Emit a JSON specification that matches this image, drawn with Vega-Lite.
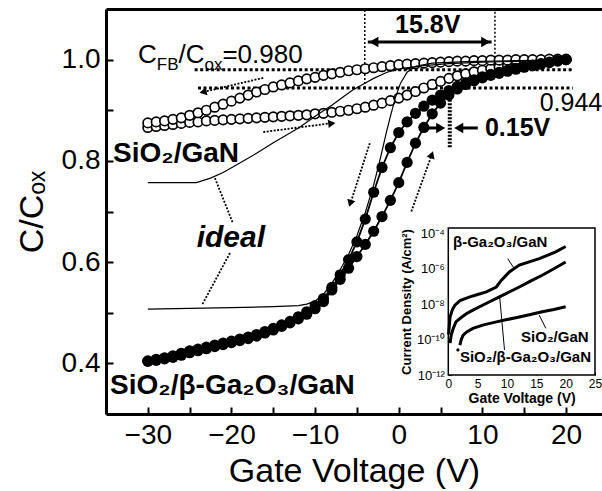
{
"$schema":"https://vega.github.io/schema/vega-lite/v6.json",
"width":496,"height":405,
"autosize":{"type":"none"},
"padding":{"left":106,"top":9,"right":0,"bottom":77},
"background":"white",
"config":{"view":{"stroke":null},"font":"Liberation Sans","axis":{"grid":false,"domainColor":"black","tickColor":"black","labelColor":"black","titleColor":"black","labelFont":"Liberation Sans","titleFont":"Liberation Sans","labelFlush":false,"labelOverlap":false}},
"datasets":{
"gan_reverse":[{"V":-30,"C":0.875},{"V":-29,"C":0.877},{"V":-28,"C":0.879},{"V":-27,"C":0.882},{"V":-26,"C":0.885},{"V":-25,"C":0.89},{"V":-24,"C":0.895},{"V":-23,"C":0.9},{"V":-22,"C":0.906},{"V":-21,"C":0.912},{"V":-20,"C":0.918},{"V":-19,"C":0.924},{"V":-18,"C":0.93},{"V":-17,"C":0.936},{"V":-16,"C":0.941},{"V":-15,"C":0.946},{"V":-14,"C":0.95},{"V":-13,"C":0.954},{"V":-12,"C":0.958},{"V":-11,"C":0.962},{"V":-10,"C":0.965},{"V":-9,"C":0.969},{"V":-8,"C":0.972},{"V":-7,"C":0.975},{"V":-6,"C":0.978},{"V":-5,"C":0.98},{"V":-4,"C":0.982},{"V":-3,"C":0.984},{"V":-2,"C":0.986},{"V":-1,"C":0.988},{"V":0,"C":0.99},{"V":1,"C":0.991},{"V":2,"C":0.992},{"V":3,"C":0.993},{"V":4,"C":0.994},{"V":5,"C":0.995},{"V":6,"C":0.996},{"V":7,"C":0.997},{"V":8,"C":0.997},{"V":9,"C":0.998},{"V":10,"C":0.998},{"V":11,"C":0.999},{"V":12,"C":0.999},{"V":13,"C":0.999},{"V":14,"C":1.0},{"V":15,"C":1.0},{"V":16,"C":1.0},{"V":17,"C":1.0},{"V":18,"C":1.001},{"V":19,"C":1.001},{"V":20,"C":1.001}],
"gan_forward":[{"V":-30,"C":0.866},{"V":-29,"C":0.868},{"V":-28,"C":0.87},{"V":-27,"C":0.872},{"V":-26,"C":0.874},{"V":-25,"C":0.876},{"V":-24,"C":0.877},{"V":-23,"C":0.879},{"V":-22,"C":0.88},{"V":-21,"C":0.881},{"V":-20,"C":0.882},{"V":-19,"C":0.883},{"V":-18,"C":0.884},{"V":-17,"C":0.885},{"V":-16,"C":0.886},{"V":-15,"C":0.887},{"V":-14,"C":0.888},{"V":-13,"C":0.889},{"V":-12,"C":0.89},{"V":-11,"C":0.891},{"V":-10,"C":0.893},{"V":-9,"C":0.894},{"V":-8,"C":0.896},{"V":-7,"C":0.898},{"V":-6,"C":0.9},{"V":-5,"C":0.903},{"V":-4,"C":0.906},{"V":-3,"C":0.91},{"V":-2,"C":0.914},{"V":-1,"C":0.919},{"V":0,"C":0.924},{"V":1,"C":0.93},{"V":2,"C":0.937},{"V":3,"C":0.944},{"V":4,"C":0.951},{"V":5,"C":0.957},{"V":6,"C":0.963},{"V":7,"C":0.968},{"V":8,"C":0.972},{"V":9,"C":0.976},{"V":10,"C":0.979},{"V":11,"C":0.982},{"V":12,"C":0.985},{"V":13,"C":0.987},{"V":14,"C":0.989},{"V":15,"C":0.991},{"V":16,"C":0.993},{"V":17,"C":0.995},{"V":18,"C":0.997},{"V":19,"C":0.999},{"V":20,"C":1.0}],
"ga_reverse":[{"V":-30,"C":0.405},{"V":-29,"C":0.408},{"V":-28,"C":0.411},{"V":-27,"C":0.415},{"V":-26,"C":0.42},{"V":-25,"C":0.425},{"V":-24,"C":0.428},{"V":-23,"C":0.432},{"V":-22,"C":0.436},{"V":-21,"C":0.44},{"V":-20,"C":0.444},{"V":-19,"C":0.448},{"V":-18,"C":0.452},{"V":-17,"C":0.457},{"V":-16,"C":0.463},{"V":-15,"C":0.469},{"V":-14,"C":0.476},{"V":-13,"C":0.483},{"V":-12,"C":0.492},{"V":-11,"C":0.502},{"V":-10,"C":0.514},{"V":-9,"C":0.528},{"V":-8,"C":0.55},{"V":-7,"C":0.575},{"V":-6,"C":0.605},{"V":-5,"C":0.64},{"V":-4,"C":0.685},{"V":-3,"C":0.738},{"V":-2,"C":0.787},{"V":-1,"C":0.826},{"V":0,"C":0.856},{"V":1,"C":0.877},{"V":2,"C":0.894},{"V":3,"C":0.908},{"V":4,"C":0.92},{"V":5,"C":0.93},{"V":6,"C":0.939},{"V":7,"C":0.947},{"V":8,"C":0.954},{"V":9,"C":0.96},{"V":10,"C":0.966},{"V":11,"C":0.971},{"V":12,"C":0.975},{"V":13,"C":0.979},{"V":14,"C":0.983},{"V":15,"C":0.986},{"V":16,"C":0.989},{"V":17,"C":0.992},{"V":18,"C":0.995},{"V":19,"C":0.998},{"V":20,"C":1.0}],
"ga_forward":[{"V":-30,"C":0.404},{"V":-29,"C":0.406},{"V":-28,"C":0.409},{"V":-27,"C":0.412},{"V":-26,"C":0.416},{"V":-25,"C":0.421},{"V":-24,"C":0.425},{"V":-23,"C":0.429},{"V":-22,"C":0.433},{"V":-21,"C":0.437},{"V":-20,"C":0.441},{"V":-19,"C":0.445},{"V":-18,"C":0.449},{"V":-17,"C":0.454},{"V":-16,"C":0.46},{"V":-15,"C":0.466},{"V":-14,"C":0.473},{"V":-13,"C":0.48},{"V":-12,"C":0.488},{"V":-11,"C":0.497},{"V":-10,"C":0.508},{"V":-9,"C":0.522},{"V":-8,"C":0.545},{"V":-7,"C":0.566},{"V":-6,"C":0.588},{"V":-5,"C":0.611},{"V":-4,"C":0.635},{"V":-3,"C":0.661},{"V":-2,"C":0.69},{"V":-1,"C":0.722},{"V":0,"C":0.757},{"V":1,"C":0.797},{"V":2,"C":0.835},{"V":3,"C":0.866},{"V":4,"C":0.893},{"V":5,"C":0.914},{"V":6,"C":0.93},{"V":7,"C":0.942},{"V":8,"C":0.951},{"V":9,"C":0.958},{"V":10,"C":0.964},{"V":11,"C":0.969},{"V":12,"C":0.973},{"V":13,"C":0.977},{"V":14,"C":0.981},{"V":15,"C":0.985},{"V":16,"C":0.988},{"V":17,"C":0.991},{"V":18,"C":0.994},{"V":19,"C":0.997},{"V":20,"C":1.0}],
"ideal_gan":[{"V":-30,"C":0.757},{"V":-24.2,"C":0.757},{"V":-22.5,"C":0.766},{"V":-21,"C":0.777},{"V":-19,"C":0.796},{"V":-17,"C":0.815},{"V":-15,"C":0.836},{"V":-13,"C":0.855},{"V":-11.8,"C":0.867},{"V":-10,"C":0.888},{"V":-8,"C":0.91},{"V":-6.5,"C":0.928},{"V":-5.5,"C":0.94},{"V":-4,"C":0.954},{"V":-3,"C":0.963},{"V":-1.4,"C":0.975},{"V":0.5,"C":0.983},{"V":3,"C":0.988},{"V":6,"C":0.992},{"V":10,"C":0.995},{"V":15,"C":0.997},{"V":20,"C":0.999}],
"ideal_ga":[{"V":-30,"C":0.507},{"V":-20,"C":0.51},{"V":-15,"C":0.512},{"V":-12,"C":0.514},{"V":-11,"C":0.517},{"V":-10,"C":0.523},{"V":-9,"C":0.537},{"V":-8,"C":0.558},{"V":-7,"C":0.585},{"V":-6,"C":0.615},{"V":-5,"C":0.652},{"V":-4,"C":0.698},{"V":-3,"C":0.752},{"V":-2.2,"C":0.805},{"V":-1.5,"C":0.855},{"V":-1,"C":0.888},{"V":-0.4,"C":0.925},{"V":0.2,"C":0.953},{"V":1,"C":0.975},{"V":2,"C":0.987},{"V":4,"C":0.993},{"V":8,"C":0.996},{"V":14,"C":0.998},{"V":20,"C":0.999}],
"refs":[{"x":-24.4,"x2":20.8,"y":0.98,"y2":0.98,"kind":"h"},{"x":-24.0,"x2":20.8,"y":0.944,"y2":0.944,"kind":"h"},{"x":-4.06,"x2":-4.06,"y":0.944,"y2":1.1,"kind":"v"},{"x":11.5,"x2":11.5,"y":0.98,"y2":1.1,"kind":"v"},{"x":6.1,"x2":6.1,"y":0.827,"y2":0.934,"kind":"thick"}],
"arrows":[{"x":-16.2,"y":0.964,"x2":-23.4,"y2":0.936,"line":"dotted"},{"x":-16.2,"y":0.857,"x2":-8.2,"y2":0.874,"line":"dotted"},{"x":-3.46,"y":0.835,"x2":-5.7,"y2":0.72,"line":"dotted"},{"x":1.5,"y":0.7,"x2":3.9,"y2":0.81,"line":"dotted"},{"x":-21.98,"y":0.766,"x2":-19.83,"y2":0.677,"line":"leader"},{"x":-20.18,"y":0.618,"x2":-23.53,"y2":0.515,"line":"leader"},{"x":-3.7,"y":1.035,"x2":11.1,"y2":1.035,"line":"solid"},{"x":3.35,"y":0.865,"x2":5.02,"y2":0.865,"line":"solid"},{"x":9.45,"y":0.865,"x2":7.17,"y2":0.865,"line":"solid"}],
"heads":[{"x":-23.4,"y":0.936,"arrow":"a1"},{"x":-8.0,"y":0.874,"arrow":"a2"},{"x":-5.8,"y":0.716,"arrow":"a3"},{"x":3.95,"y":0.812,"arrow":"a4"},{"x":-2.98,"y":1.035,"arrow":"left"},{"x":10.4,"y":1.035,"arrow":"right"},{"x":5.02,"y":0.865,"arrow":"right"},{"x":7.17,"y":0.865,"arrow":"left"}],
"notes":[{"x":-31.18,"y":0.993,"text":"C","role":"note"},{"x":-28.93,"y":0.979,"text":"FB","role":"sub"},{"x":-26.34,"y":0.993,"text":"/C","role":"note"},{"x":-23.23,"y":0.979,"text":"ox","role":"sub"},{"x":-21.08,"y":0.993,"text":"=0.980","role":"note"},{"x":16.85,"y":0.914,"text":"0.944","role":"value"},{"x":-34.16,"y":0.798,"text":"SiO₂/GaN","role":"sample"},{"x":-34.52,"y":0.339,"text":"SiO₂/β-Ga₂O₃/GaN","role":"sample"},{"x":3.47,"y":1.068,"text":"15.8V","role":"shift"},{"x":10.3,"y":0.865,"text":"0.15V","role":"shiftleft"},{"x":-20.07,"y":0.647,"text":"ideal","role":"ideal"}],
"jv":[{"V":0.05,"J":2.0e-10,"sample":"b-Ga2O3/GaN"},{"V":0.3,"J":1.9e-9,"sample":"b-Ga2O3/GaN"},{"V":0.7,"J":5.0e-9,"sample":"b-Ga2O3/GaN"},{"V":1.13,"J":8.7e-9,"sample":"b-Ga2O3/GaN"},{"V":2,"J":1.6e-8,"sample":"b-Ga2O3/GaN"},{"V":3.67,"J":2.6e-8,"sample":"b-Ga2O3/GaN"},{"V":5,"J":3.5e-8,"sample":"b-Ga2O3/GaN"},{"V":6.49,"J":4.9e-8,"sample":"b-Ga2O3/GaN"},{"V":8.18,"J":9.3e-8,"sample":"b-Ga2O3/GaN"},{"V":9.02,"J":2.2e-7,"sample":"b-Ga2O3/GaN"},{"V":10.4,"J":6.6e-7,"sample":"b-Ga2O3/GaN"},{"V":12.1,"J":1.6e-6,"sample":"b-Ga2O3/GaN"},{"V":15.5,"J":3.7e-6,"sample":"b-Ga2O3/GaN"},{"V":18.3,"J":8.9e-6,"sample":"b-Ga2O3/GaN"},{"V":20,"J":1.8e-5,"sample":"b-Ga2O3/GaN"},
{"V":0.3,"J":6.3e-11,"sample":"SiO2/b-Ga2O3/GaN"},{"V":0.5,"J":1.8e-10,"sample":"SiO2/b-Ga2O3/GaN"},{"V":0.85,"J":4.3e-10,"sample":"SiO2/b-Ga2O3/GaN"},{"V":1.3,"J":1.0e-9,"sample":"SiO2/b-Ga2O3/GaN"},{"V":1.98,"J":1.55e-9,"sample":"SiO2/b-Ga2O3/GaN"},{"V":3,"J":2.8e-9,"sample":"SiO2/b-Ga2O3/GaN"},{"V":4.2,"J":4.6e-9,"sample":"SiO2/b-Ga2O3/GaN"},{"V":6,"J":9.3e-9,"sample":"SiO2/b-Ga2O3/GaN"},{"V":8.2,"J":2.1e-8,"sample":"SiO2/b-Ga2O3/GaN"},{"V":10,"J":4.2e-8,"sample":"SiO2/b-Ga2O3/GaN"},{"V":12.1,"J":9.3e-8,"sample":"SiO2/b-Ga2O3/GaN"},{"V":14,"J":2.0e-7,"sample":"SiO2/b-Ga2O3/GaN"},{"V":16,"J":4.3e-7,"sample":"SiO2/b-Ga2O3/GaN"},{"V":18,"J":1.0e-6,"sample":"SiO2/b-Ga2O3/GaN"},{"V":20,"J":2.4e-6,"sample":"SiO2/b-Ga2O3/GaN"},
{"V":1.98,"J":4.9e-11,"sample":"SiO2/GaN"},{"V":2.2,"J":1.0e-10,"sample":"SiO2/GaN"},{"V":2.53,"J":1.8e-10,"sample":"SiO2/GaN"},{"V":3.2,"J":2.8e-10,"sample":"SiO2/GaN"},{"V":4.2,"J":4.3e-10,"sample":"SiO2/GaN"},{"V":6,"J":6.8e-10,"sample":"SiO2/GaN"},{"V":8.2,"J":1.0e-9,"sample":"SiO2/GaN"},{"V":10,"J":1.35e-9,"sample":"SiO2/GaN"},{"V":12.1,"J":1.9e-9,"sample":"SiO2/GaN"},{"V":14,"J":2.6e-9,"sample":"SiO2/GaN"},{"V":16,"J":3.7e-9,"sample":"SiO2/GaN"},{"V":18,"J":5.0e-9,"sample":"SiO2/GaN"},{"V":20,"J":7.1e-9,"sample":"SiO2/GaN"}],
"inset_leaders":[{"x":10.13,"y":3.7e-6,"x2":11.26,"y2":1.0e-6},{"x":15.49,"y":2.4e-9,"x2":16.62,"y2":4.3e-10},{"x":8.73,"y":3.2e-8,"x2":9.58,"y2":2.6e-11}],
"inset_notes":[{"x":0.8,"y":3.1e-5,"text":"β-Ga₂O₃/GaN"},{"x":12.4,"y":1.45e-10,"text":"SiO₂/GaN"},{"x":1.98,"y":1.07e-11,"text":"SiO₂/β-Ga₂O₃/GaN"}],
"inset_dots":[{"x":1.64,"y":2.6e-11}]
},
"layer":[
{"layer":[
 {"data":{"name":"refs"},"transform":[{"filter":"datum.kind=='h'"}],"mark":{"type":"rule","color":"black","strokeWidth":3,"strokeDash":[3,2.5]},
  "encoding":{"x":{"field":"x","type":"quantitative","scale":{"domain":[-35,24.3],"nice":false},"axis":{"orient":"top","labels":false,"ticks":false,"domain":true,"domainWidth":3,"title":null}},"x2":{"field":"x2"},
   "y":{"field":"y","type":"quantitative","scale":{"domain":[0.3,1.1],"nice":false,"zero":false},"axis":{"orient":"left","values":[0.4,0.5,0.6,0.7,0.8,0.9,1.0],"labelExpr":"round(datum.value*10) % 2 == 0 ? format(datum.value, '.1f') : ''","labelFontSize":28,"tickSize":-7,"tickWidth":2,"domainWidth":3,"labelPadding":13,"title":"C/Cₒₓ","titleFontSize":34,"titleFontWeight":"normal","titlePadding":12}},"y2":{"field":"y2"}}},
 {"data":{"name":"refs"},"transform":[{"filter":"datum.kind=='v'"}],"mark":{"type":"rule","color":"black","strokeWidth":1.5,"strokeDash":[2,2]},
  "encoding":{"x":{"field":"x","type":"quantitative","axis":null},"x2":{"field":"x2"},"y":{"field":"y","type":"quantitative","axis":null},"y2":{"field":"y2"}}},
 {"data":{"name":"refs"},"transform":[{"filter":"datum.kind=='thick'"}],"mark":{"type":"rule","color":"black","strokeWidth":4,"strokeDash":[2,1.5]},
  "encoding":{"x":{"field":"x","type":"quantitative","axis":null},"x2":{"field":"x2"},"y":{"field":"y","type":"quantitative","axis":null},"y2":{"field":"y2"}}},
 {"data":{"name":"arrows"},"transform":[{"filter":"datum.line!='solid'"}],"mark":{"type":"rule","color":"black","strokeWidth":1.8,"strokeDash":[2,1.5]},
  "encoding":{"x":{"field":"x","type":"quantitative","axis":null},"x2":{"field":"x2"},"y":{"field":"y","type":"quantitative","axis":null},"y2":{"field":"y2"}}},
 {"data":{"name":"gan_forward"},"mark":{"type":"point","shape":"circle","filled":true,"fill":"white","stroke":"black","strokeWidth":1.7,"size":90,"opacity":1},
  "encoding":{"x":{"field":"V","type":"quantitative","axis":{"orient":"bottom","values":[-30,-25,-20,-15,-10,-5,0,5,10,15,20],"labelExpr":"datum.value % 10 == 0 ? datum.label : ''","labelFontSize":28,"tickSize":-7,"tickWidth":2,"domainWidth":3,"labelPadding":14,"title":"Gate Voltage (V)","titleFontSize":34,"titleFontWeight":"normal","titlePadding":5}},"y":{"field":"C","type":"quantitative","axis":null}}},
 {"data":{"name":"gan_reverse"},"mark":{"type":"point","shape":"circle","filled":true,"fill":"white","stroke":"black","strokeWidth":1.7,"size":90,"opacity":1},
  "encoding":{"x":{"field":"V","type":"quantitative","axis":null},"y":{"field":"C","type":"quantitative","axis":null}}},
 {"data":{"name":"ideal_gan"},"mark":{"type":"line","color":"black","strokeWidth":1.2},
  "encoding":{"x":{"field":"V","type":"quantitative","axis":null},"y":{"field":"C","type":"quantitative","axis":null}}},
 {"data":{"name":"ideal_ga"},"mark":{"type":"line","color":"black","strokeWidth":1.2},
  "encoding":{"x":{"field":"V","type":"quantitative","axis":null},"y":{"field":"C","type":"quantitative","axis":null}}},
 {"data":{"name":"ga_forward"},"mark":{"type":"line","color":"black","strokeWidth":1.8},
  "encoding":{"x":{"field":"V","type":"quantitative","axis":null},"y":{"field":"C","type":"quantitative","axis":null}}},
 {"data":{"name":"ga_reverse"},"mark":{"type":"line","color":"black","strokeWidth":1.8},
  "encoding":{"x":{"field":"V","type":"quantitative","axis":null},"y":{"field":"C","type":"quantitative","axis":null}}},
 {"data":{"name":"ga_forward"},"mark":{"type":"point","shape":"circle","filled":true,"color":"black","size":125,"opacity":1},
  "encoding":{"x":{"field":"V","type":"quantitative","axis":null},"y":{"field":"C","type":"quantitative","axis":null}}},
 {"data":{"name":"ga_reverse"},"mark":{"type":"point","shape":"circle","filled":true,"color":"black","size":125,"opacity":1},
  "encoding":{"x":{"field":"V","type":"quantitative","axis":null},"y":{"field":"C","type":"quantitative","axis":null}}},
 {"data":{"name":"arrows"},"transform":[{"filter":"datum.line=='solid'"}],"mark":{"type":"rule","color":"black","strokeWidth":3},
  "encoding":{"x":{"field":"x","type":"quantitative","axis":null},"x2":{"field":"x2"},"y":{"field":"y","type":"quantitative","axis":null},"y2":{"field":"y2"}}},
 {"data":{"name":"heads"},"transform":[{"filter":"datum.arrow=='a1'"}],"mark":{"type":"point","shape":"triangle-right","filled":true,"color":"black","size":70,"angle":167,"opacity":1},
  "encoding":{"x":{"field":"x","type":"quantitative","axis":null},"y":{"field":"y","type":"quantitative","axis":null}}},
 {"data":{"name":"heads"},"transform":[{"filter":"datum.arrow=='a2'"}],"mark":{"type":"point","shape":"triangle-right","filled":true,"color":"black","size":70,"angle":353,"opacity":1},
  "encoding":{"x":{"field":"x","type":"quantitative","axis":null},"y":{"field":"y","type":"quantitative","axis":null}}},
 {"data":{"name":"heads"},"transform":[{"filter":"datum.arrow=='a3'"}],"mark":{"type":"point","shape":"triangle-right","filled":true,"color":"black","size":70,"angle":107,"opacity":1},
  "encoding":{"x":{"field":"x","type":"quantitative","axis":null},"y":{"field":"y","type":"quantitative","axis":null}}},
 {"data":{"name":"heads"},"transform":[{"filter":"datum.arrow=='a4'"}],"mark":{"type":"point","shape":"triangle-right","filled":true,"color":"black","size":70,"angle":289,"opacity":1},
  "encoding":{"x":{"field":"x","type":"quantitative","axis":null},"y":{"field":"y","type":"quantitative","axis":null}}},
 {"data":{"name":"heads"},"transform":[{"filter":"datum.arrow=='left'"}],"mark":{"type":"point","shape":"triangle-left","filled":true,"color":"black","size":110,"opacity":1},
  "encoding":{"x":{"field":"x","type":"quantitative","axis":null},"y":{"field":"y","type":"quantitative","axis":null}}},
 {"data":{"name":"heads"},"transform":[{"filter":"datum.arrow=='right'"}],"mark":{"type":"point","shape":"triangle-right","filled":true,"color":"black","size":110,"opacity":1},
  "encoding":{"x":{"field":"x","type":"quantitative","axis":null},"y":{"field":"y","type":"quantitative","axis":null}}},
 {"data":{"name":"notes"},"transform":[{"filter":"datum.role=='note'"}],"mark":{"type":"text","fontSize":26,"align":"left","baseline":"alphabetic","color":"black"},
  "encoding":{"x":{"field":"x","type":"quantitative","axis":null},"y":{"field":"y","type":"quantitative","axis":null},"text":{"field":"text"}}},
 {"data":{"name":"notes"},"transform":[{"filter":"datum.role=='sub'"}],"mark":{"type":"text","fontSize":17,"align":"left","baseline":"alphabetic","color":"black"},
  "encoding":{"x":{"field":"x","type":"quantitative","axis":null},"y":{"field":"y","type":"quantitative","axis":null},"text":{"field":"text"}}},
 {"data":{"name":"notes"},"transform":[{"filter":"datum.role=='value'"}],"mark":{"type":"text","fontSize":25,"align":"left","baseline":"middle","color":"black"},
  "encoding":{"x":{"field":"x","type":"quantitative","axis":null},"y":{"field":"y","type":"quantitative","axis":null},"text":{"field":"text"}}},
 {"data":{"name":"notes"},"transform":[{"filter":"datum.role=='sample'"}],"mark":{"type":"text","fontSize":28,"fontWeight":"bold","align":"left","baseline":"alphabetic","color":"black"},
  "encoding":{"x":{"field":"x","type":"quantitative","axis":null},"y":{"field":"y","type":"quantitative","axis":null},"text":{"field":"text"}}},
 {"data":{"name":"notes"},"transform":[{"filter":"datum.role=='shift'"}],"mark":{"type":"text","fontSize":25,"fontWeight":"bold","align":"center","baseline":"middle","color":"black"},
  "encoding":{"x":{"field":"x","type":"quantitative","axis":null},"y":{"field":"y","type":"quantitative","axis":null},"text":{"field":"text"}}},
 {"data":{"name":"notes"},"transform":[{"filter":"datum.role=='shiftleft'"}],"mark":{"type":"text","fontSize":25,"fontWeight":"bold","align":"left","baseline":"middle","color":"black"},
  "encoding":{"x":{"field":"x","type":"quantitative","axis":null},"y":{"field":"y","type":"quantitative","axis":null},"text":{"field":"text"}}},
 {"data":{"name":"notes"},"transform":[{"filter":"datum.role=='ideal'"}],"mark":{"type":"text","fontSize":30,"fontWeight":"bold","fontStyle":"italic","align":"center","baseline":"middle","color":"black"},
  "encoding":{"x":{"field":"x","type":"quantitative","axis":null},"y":{"field":"y","type":"quantitative","axis":null},"text":{"field":"text"}}}
 ],
 "resolve":{"axis":{"x":"independent","y":"independent"}}
},
{"layer":[
 {"data":{"values":[{"x":0,"x2":25,"y":1e-12,"y2":0.0002}]},"mark":{"type":"rect","fill":"white","stroke":"black","strokeWidth":1.5},
  "encoding":{"x":{"field":"x","type":"quantitative","scale":{"domain":[0,25],"range":[342.3,489],"nice":false,"zero":false},"axis":{"orient":"bottom","offset":-39,"values":[0,5,10,15,20,25],"domain":false,"tickSize":-3,"tickWidth":1,"labelFontSize":12,"labelPadding":6,"title":"Gate Voltage (V)","titleFontSize":14,"titleFontWeight":"bold","titlePadding":2}},"x2":{"field":"x2"},
   "y":{"field":"y","type":"quantitative","scale":{"type":"log","domain":[1e-12,0.0002],"range":[366,219],"nice":false},"axis":{"orient":"left","offset":-342.3,"values":[1e-12,1e-10,1e-8,1e-6,1e-4],"labelExpr":"datum.value < 2e-12 ? '10⁻¹²' : datum.value < 2e-10 ? '10⁻¹⁰' : datum.value < 2e-8 ? '10⁻⁸' : datum.value < 2e-6 ? '10⁻⁶' : '10⁻⁴'","domain":false,"tickSize":-3,"tickWidth":1,"labelFontSize":13,"labelPadding":7,"title":"Current Density (A/cm²)","titleFontSize":13,"titleFontWeight":"bold","titlePadding":3}},"y2":{"field":"y2"}}},
 {"data":{"name":"jv"},"mark":{"type":"line","color":"black","strokeWidth":3},
  "encoding":{"x":{"field":"V","type":"quantitative","axis":null},"y":{"field":"J","type":"quantitative","axis":null},"detail":{"field":"sample"}}},
 {"data":{"name":"inset_leaders"},"mark":{"type":"rule","color":"black","strokeWidth":1},
  "encoding":{"x":{"field":"x","type":"quantitative","axis":null},"x2":{"field":"x2"},"y":{"field":"y","type":"quantitative","axis":null},"y2":{"field":"y2"}}},
 {"data":{"name":"inset_dots"},"mark":{"type":"point","shape":"circle","filled":true,"color":"black","size":10,"opacity":1},
  "encoding":{"x":{"field":"x","type":"quantitative","axis":null},"y":{"field":"y","type":"quantitative","axis":null}}},
 {"data":{"name":"inset_notes"},"mark":{"type":"text","fontSize":15,"fontWeight":"bold","align":"left","baseline":"middle","color":"black"},
  "encoding":{"x":{"field":"x","type":"quantitative","axis":null},"y":{"field":"y","type":"quantitative","axis":null},"text":{"field":"text"}}}
 ],
 "resolve":{"axis":{"x":"independent","y":"independent"}}
}
],
"resolve":{"scale":{"x":"independent","y":"independent"},"axis":{"x":"independent","y":"independent"}}
}
